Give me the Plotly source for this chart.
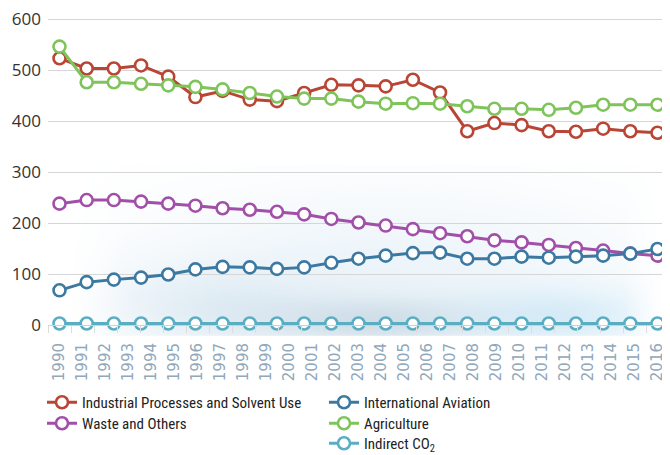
import base64, struct, zlib
import numpy as np
import plotly.graph_objects as go

# ---------------- data ----------------
years = [str(y) for y in range(1990, 2017)]
industrial = [523, 503, 503, 509, 487, 447, 459, 442, 439, 455, 471, 470, 468, 481, 456,
              380, 396, 392, 380, 379, 385, 380, 377]
waste = [238, 245, 245, 242, 238, 234, 229, 226, 222, 217, 208, 201, 195, 188, 180,
         174, 166, 162, 157, 151, 146, 140, 136]
aviation = [68, 84, 89, 93, 99, 109, 114, 113, 110, 113, 122, 130, 136, 141, 142,
            130, 130, 134, 132, 134, 136, 140, 149]
agriculture = [546, 476, 476, 473, 470, 467, 462, 455, 448, 444, 444, 438, 434, 435, 434,
               429, 424, 424, 422, 426, 432, 432, 432]
indirect = [3, 3, 3, 3, 3, 3, 3, 3, 3, 3, 3, 3, 3, 3, 3, 3, 3, 3, 3, 3, 3, 3, 3]
y_ticks = [0, 100, 200, 300, 400, 500, 600]

names = ["Industrial Processes and Solvent Use", "Waste and Others",
         "International Aviation", "Agriculture", "Indirect CO<sub>2</sub>"]
values = [industrial, waste, aviation, agriculture, indirect]
colors = ["#b94535", "#a14fa8", "#3b79a3", "#7fc45a", "#5aaec2"]

# ---------------- decorative haze background (PNG built in memory) ----------------
W, H = 620, 170
yy, xx = np.mgrid[0:H, 0:W].astype(float)
def blob(cx, cy, sx, sy):
    return np.exp(-(((xx - cx) / sx) ** 2 + ((yy - cy) / sy) ** 2))
blobs = [
    ((232, 242, 249), 0.75, blob(340, 105, 260, 80)),
    ((205, 224, 237), 0.50, blob(170, 140, 110, 40)),
    ((168, 192, 210), 0.45, blob(330, 155, 120, 24)),
    ((190, 225, 244), 0.55, blob(510, 150, 95, 28)),
]
rgb = np.ones((H, W, 3)) * 255.0
alpha_tot = np.zeros((H, W))
for col, a, b in blobs:
    al = a * b
    rgb = rgb * (1 - al[..., None]) + np.array(col)[None, None, :] * al[..., None]
    alpha_tot = 1 - (1 - alpha_tot) * (1 - al)
fade = np.clip((xx - 15) / 60, 0, 1) * np.clip((W - 5 - xx) / 40, 0, 1)
alpha_img = alpha_tot * fade
with np.errstate(invalid="ignore", divide="ignore"):
    col_img = 255 - (255 - rgb) / np.where(alpha_tot > 1e-4, alpha_tot, 1)[..., None]
col_img = np.clip(col_img, 0, 255)
rgba = np.dstack([col_img, alpha_img * 255]).astype(np.uint8)

def png_bytes(arr):
    h, w, _ = arr.shape
    raw = b"".join(b"\x00" + arr[r].tobytes() for r in range(h))
    def chunk(t, d):
        c = struct.pack(">I", len(d)) + t + d
        return c + struct.pack(">I", zlib.crc32(t + d) & 0xFFFFFFFF)
    return (b"\x89PNG\r\n\x1a\n" + chunk(b"IHDR", struct.pack(">IIBBBBB", w, h, 8, 6, 0, 0, 0))
            + chunk(b"IDAT", zlib.compress(raw, 9)) + chunk(b"IEND", b""))
haze_uri = "data:image/png;base64," + base64.b64encode(png_bytes(rgba)).decode()

# ---------------- figure ----------------
FW, FH = 662, 447   # page body adds an 8px offset
fig = go.Figure()
fig.add_trace(go.Scatter(x=years, y=[None] * len(years), mode="markers",
                         showlegend=False, hoverinfo="skip", xaxis="x", yaxis="y"))
n = len(industrial)
idx = list(range(n))
legend_ids = ["legend", "legend2", "legend3", "legend4", "legend5"]
for name, vals, color, lg in zip(names, values, colors, legend_ids):
    fig.add_trace(go.Scatter(
        x=idx, y=vals, name=name, mode="lines+markers", xaxis="x2", yaxis="y",
        line=dict(color=color, width=3),
        marker=dict(symbol="circle", size=12, color="white", line=dict(color=color, width=2.6)),
        cliponaxis=False, legend=lg,
    ))

pad = 0.5 * (n - 1) / (len(years) - 1)
font_main = "Liberation Sans Narrow, Roboto Condensed, Roboto, sans-serif"

leg_pos = [(74, 394), (74, 415), (356, 394), (356, 415), (356, 435)]
legends = {}
for lg, (tx, cy) in zip(legend_ids, leg_pos):
    legends[lg] = dict(xref="container", yref="container",
                       x=(tx - 40) / FW, y=1 - (cy - 16) / FH,
                       xanchor="left", yanchor="top", orientation="v",
                       font=dict(family=font_main, size=15, color="#222222"),
                       bgcolor="rgba(0,0,0,0)", itemwidth=30)

fig.update_layout(
    width=FW, height=FH,
    margin=dict(l=40, r=1, t=9, b=130, autoexpand=False),
    paper_bgcolor="white", plot_bgcolor="rgba(0,0,0,0)",
    showlegend=True,
    xaxis=dict(type="category", categoryorder="array", categoryarray=years,
               range=[-0.5, len(years) - 0.5], tickangle=-90,
               tickfont=dict(family="DejaVu Sans", size=15, color="#90a8ba"),
               ticks="outside", ticklen=7, tickcolor="#dddddd", tickson="boundaries",
               showline=True, linecolor="#d0d0d0", linewidth=1, showgrid=False,
               zeroline=False, ticklabelstandoff=11, fixedrange=True, automargin=False),
    xaxis2=dict(overlaying="x", visible=False, range=[-pad, n - 1 + pad], fixedrange=True),
    yaxis=dict(range=[0, 604], tickvals=y_ticks, showgrid=True, gridcolor="#d6d6d6",
               gridwidth=1, zeroline=False, showline=False, ticks="",
               tickfont=dict(family="Open Sans", size=17, color="#333333"),
               ticklabelstandoff=6, ticklabeloverflow="allow",
               fixedrange=True, automargin=False),
    images=[dict(source=haze_uri, xref="paper", yref="paper", x=0, y=0.52,
                 sizex=1, sizey=0.555, sizing="stretch", layer="below",
                 xanchor="left", yanchor="top")],
    **legends,
)

fig.write_html("out.html")
